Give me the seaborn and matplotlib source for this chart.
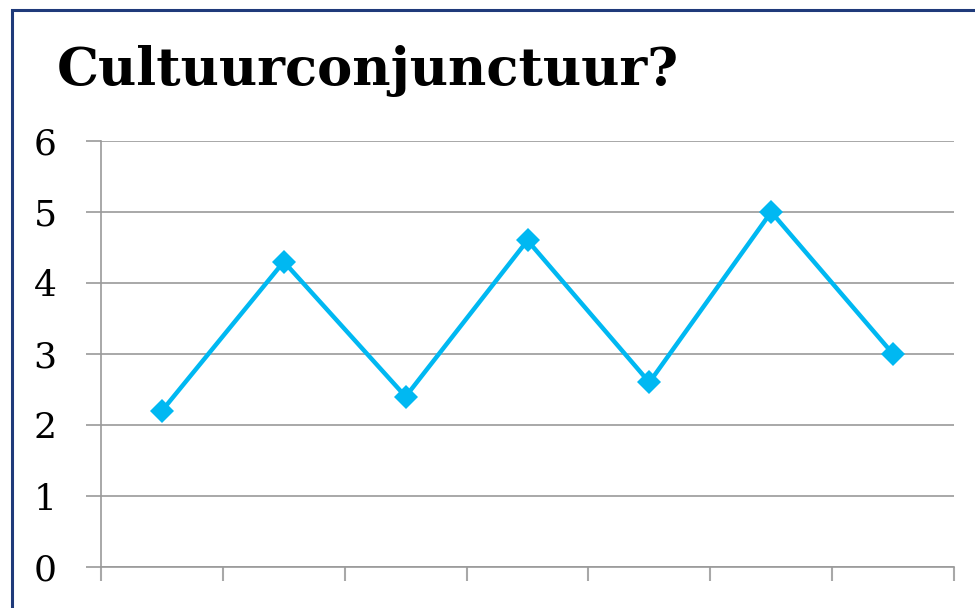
import matplotlib
matplotlib.use("Agg")
import matplotlib.pyplot as plt
import seaborn as sns
import numpy as np
from matplotlib.patches import Rectangle

periods = [1, 2, 3, 4, 5, 6, 7]
values = [2.2, 4.3, 2.4, 4.6, 2.6, 5.0, 3.0]
yticks = [0, 1, 2, 3, 4, 5, 6]
title = "Cultuurconjunctuur?"

sns.set_theme(style="white")
plt.rcParams['font.family'] = ['DejaVu Serif']

fig = plt.figure(figsize=(9.75, 6.08), dpi=100)
W, H = 975, 608
ax = fig.add_axes([101 / W, (H - 567) / H, (954 - 101) / W, (567 - 141) / H])

sns.lineplot(x=periods, y=values, ax=ax, color="#00B8F2", linewidth=3.2,
             marker="D", markersize=12, markeredgewidth=0, zorder=3)

ax.set_ylim(0, 6)
ax.set_xlim(0.5, 7.5)
ax.set_yticks(yticks)
ax.set_yticklabels([str(t) for t in yticks], fontsize=26)
ax.set_xticks(np.arange(0.5, 8.0, 1.0))
ax.set_xticklabels([])
ax.grid(axis="y", color="#9a9a9a", linewidth=1.2, zorder=0)
ax.grid(axis="x", visible=False)
for s in ["top", "right"]:
    ax.spines[s].set_visible(False)
for s in ["left", "bottom"]:
    ax.spines[s].set_color("#9a9a9a")
    ax.spines[s].set_linewidth(1.2)
ax.tick_params(axis="y", direction="out", length=10.8, width=1.2, color="#9a9a9a",
               labelcolor="black", left=True)
ax.tick_params(axis="x", direction="out", length=10, width=1.5, color="#a8a8a8",
               bottom=True)
ax.set_xlabel("")
ax.set_ylabel("")
for lab in ax.get_yticklabels():
    lab.set_horizontalalignment("center")
ax.tick_params(axis="y", pad=29.5)

fig.text(57 / W, (H - 85) / H, title, fontsize=38, fontweight="bold",
         family="DejaVu Serif", color="black", va="baseline", ha="left")

border = Rectangle((12 / W, -0.1), 1.2, (H - 10) / H + 0.1, transform=fig.transFigure,
                   fill=False, edgecolor="#1F3A7A", linewidth=2.2)
fig.patches.append(border)

fig.savefig("out.png", dpi=100)
